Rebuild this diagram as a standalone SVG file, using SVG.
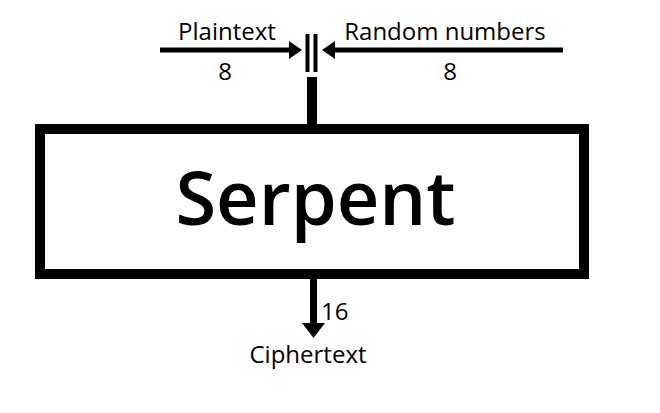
<svg xmlns="http://www.w3.org/2000/svg" width="660" height="413" viewBox="0 0 660 413">
<style>
.lbl{font-family:"Open Sans","Noto Sans",sans-serif;font-size:24px;fill:#000}
.big{font-family:"Open Sans","Noto Sans",sans-serif;font-size:74px;font-weight:600;fill:#000}
</style>
<rect width="660" height="413" fill="#fff"/>
<g id="connectors">
  <line x1="160" y1="50" x2="291" y2="50" stroke="#000" stroke-width="5"/>
  <polygon points="289,41 302,50 289,59" fill="#000"/>
  <line x1="563" y1="50" x2="333" y2="50" stroke="#000" stroke-width="5"/>
  <polygon points="335,41 322,50 335,59" fill="#000"/>
  <rect x="305.5" y="34" width="4" height="38" fill="#000"/>
  <rect x="313.5" y="34" width="4" height="38" fill="#000"/>
  <rect x="307" y="77" width="10" height="50" fill="#000"/>
  <rect x="310" y="276" width="7" height="48" fill="#000"/>
  <polygon points="302,323 325,323 313.5,338" fill="#000"/>
</g>
<g id="node-serpent">
  <rect x="40" y="129" width="544" height="145" fill="#fff" stroke="#000" stroke-width="10"/>
  <text x="315.5" y="225" text-anchor="middle" class="big">Serpent</text>
</g>
<g id="labels">
  <text x="227" y="40" text-anchor="middle" class="lbl">Plaintext</text>
  <text x="225" y="80" text-anchor="middle" class="lbl">8</text>
  <text x="445" y="40" text-anchor="middle" class="lbl">Random numbers</text>
  <text x="450" y="80" text-anchor="middle" class="lbl">8</text>
  <text x="321" y="320" class="lbl">16</text>
  <text x="308" y="363" text-anchor="middle" class="lbl">Ciphertext</text>
</g>
</svg>
